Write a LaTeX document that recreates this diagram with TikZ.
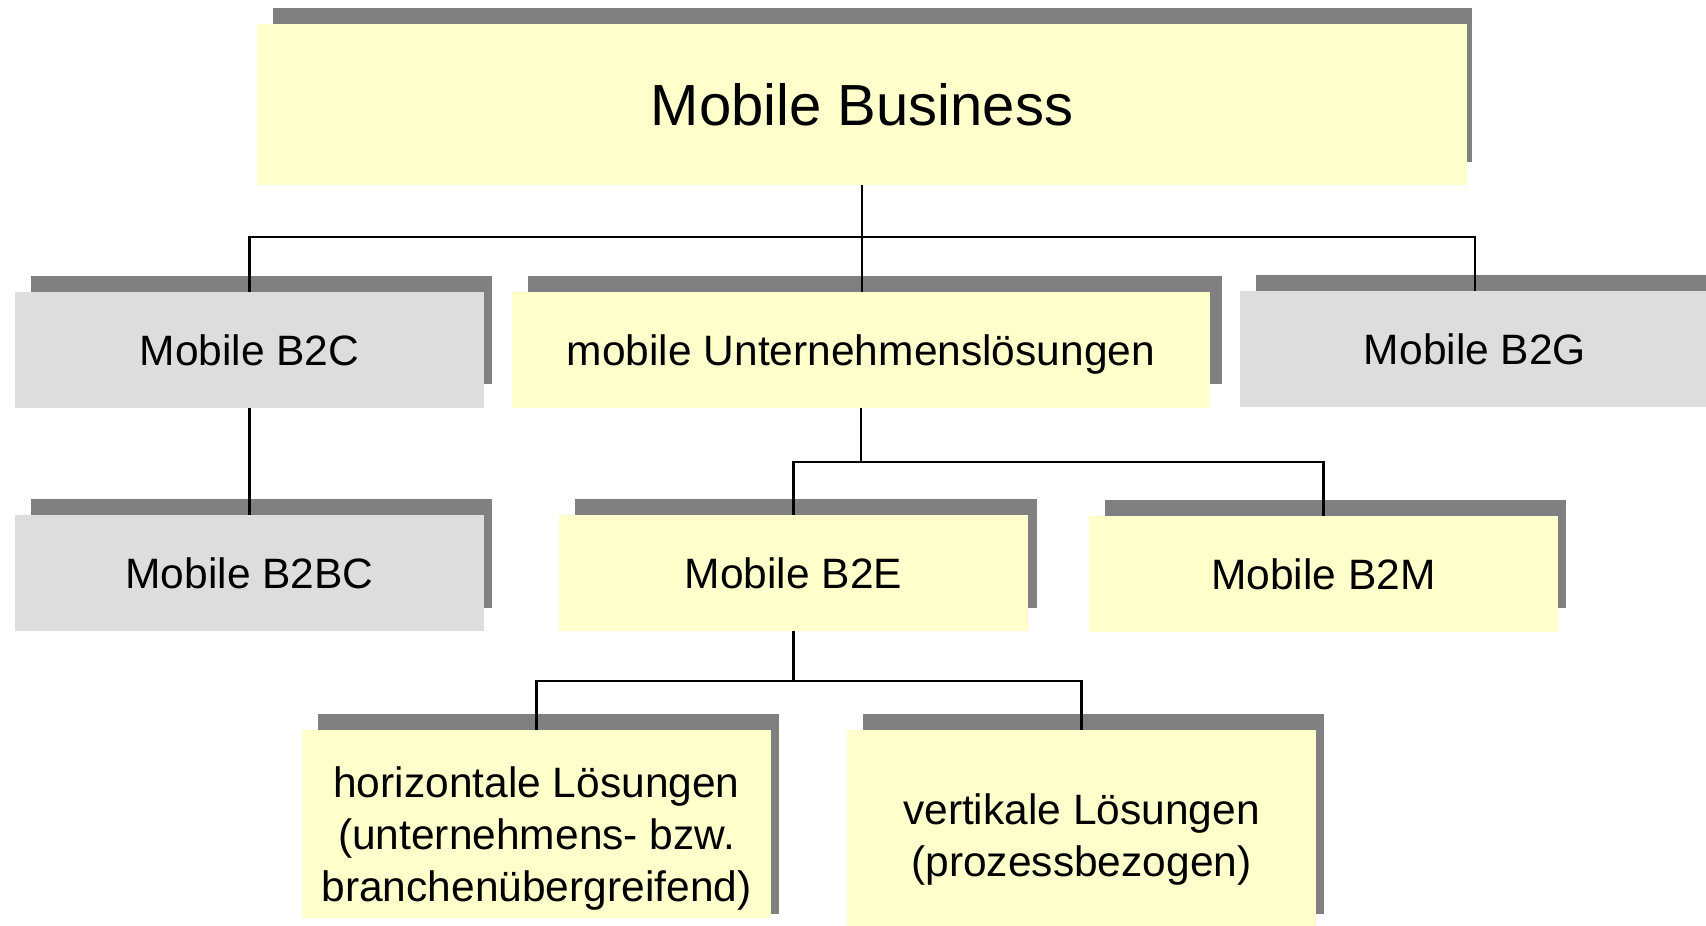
\documentclass[tikz,border=0pt]{standalone}
\usepackage{fontspec}
\setmainfont{Liberation Sans}
\usetikzlibrary{calc,backgrounds}

\definecolor{paleyellow}{HTML}{FFFFCC}
\definecolor{palegray}{HTML}{DDDDDD}
\definecolor{shadowgray}{HTML}{808080}

\tikzset{
  box/.style={rectangle, inner sep=0pt, align=center, text depth=0pt,
    font=\fontsize{42.5}{52}\selectfont},
  yellowbox/.style={box, fill=paleyellow},
  graybox/.style={box, fill=palegray},
  conn/.style={draw=black, line width=2.3pt},
  boxshadow/.style={fill=shadowgray}
}

% #1 name, #2 centre, #3 width, #4 height, #5 fill style,
% #6 shadow right overhang, #7 shadow bottom lift, #8 text
\newcommand\tbox[8]{%
  \node[#5, minimum width=#3pt, minimum height=#4pt] (#1) at #2 {#8};
  \begin{scope}[on background layer]
    \fill[boxshadow] ($(#1.north west)+(16,-16)$) rectangle ($(#1.south east)+(#6,-#7)$);
  \end{scope}
}

\begin{document}
\begin{tikzpicture}[x=1pt, y=-1pt]
  \useasboundingbox (0,0) rectangle (1706,926);

  \tbox{top}{(862,104.5)}{1210}{161}{yellowbox}{5}{23}{\fontsize{58}{66}\selectfont Mobile Business}

  \tbox{b2c}{(249.5,350)}{469}{116}{graybox}{8}{24}{Mobile B2C}
  \tbox{mid}{(861,350)}{698}{116}{yellowbox}{12}{24}{mobile Unternehmenslösungen}
  \tbox{b2g}{(1475,349)}{470}{116}{graybox}{8}{23}{Mobile B2G}

  \tbox{b2bc}{(249.5,573)}{469}{116}{graybox}{8}{23}{Mobile B2BC}
  \tbox{b2e}{(793.5,573)}{469}{116}{yellowbox}{9}{23}{Mobile B2E}
  \tbox{b2m}{(1323.5,574)}{469}{116}{yellowbox}{8}{24}{Mobile B2M}

  \tbox{horiz}{(536.5,824)}{469}{188}{yellowbox, text height=154pt}{8}{4}{horizontale Lösungen\\(unternehmens- bzw.\\branchenübergreifend)}
  \tbox{vert}{(1081.5,830)}{469}{200}{yellowbox, text height=92pt}{8}{16}{vertikale Lösungen\\(prozessbezogen)}

  % junctions of the tree branches
  \coordinate (j1) at (862,237);
  \coordinate (j2) at (793.5,462);
  \coordinate (j3) at (536.5,681);

  \draw[conn] (top.south) -- (top.south |- mid.north);
  \draw[conn] (b2c.north) |- (j1) -| (b2g.north);
  \draw[conn] (b2c.south) -- (b2bc.north);
  \draw[conn] (mid.south) -- (mid.south |- j2);
  \draw[conn] (b2e.north) |- (mid.south |- j2) -| (b2m.north);
  \draw[conn] (b2e.south) -- (b2e.south |- j3);
  \draw[conn] (horiz.north) |- (b2e.south |- j3) -| (vert.north);
\end{tikzpicture}
\end{document}
